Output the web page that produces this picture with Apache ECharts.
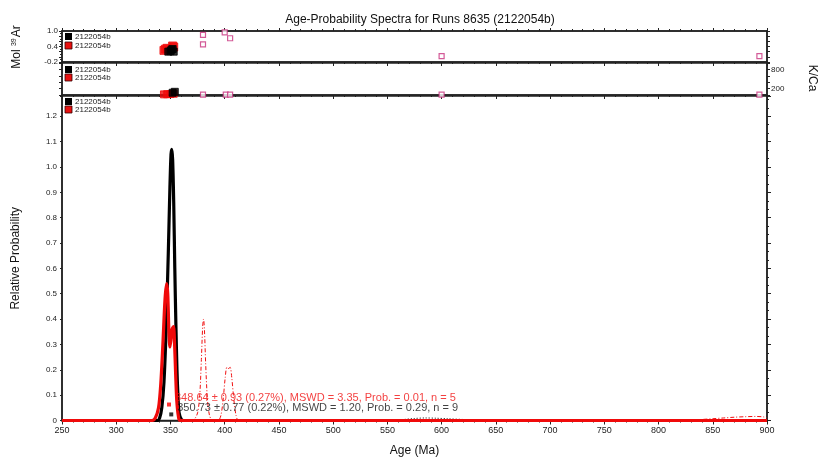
<!DOCTYPE html>
<html><head><meta charset="utf-8">
<script src="https://cdn.jsdelivr.net/npm/echarts@6/dist/echarts.min.js"></script>
<style>html,body{margin:0;padding:0;background:#fff}#c{width:818px;height:466px}</style>
</head><body><div id="c"></div>
<script>
// ---- data ----
const titleText = 'Age-Probability Spectra for Runs 8635 (2122054b)';
const sampleName = '2122054b';
const xTicks = [250,300,350,400,450,500,550,600,650,700,750,800,850,900];
const probTicks = [0,0.1,0.2,0.3,0.4,0.5,0.6,0.7,0.8,0.9,1.0,1.1,1.2];
// Black probability curve (age, relative probability)
const blackCurve = [[250,0],[330,0],[338,0],[340,0.01],[342,0.05],[344,0.15],[346,0.36],[348,0.66],[349.5,0.92],[350.5,1.05],[351.2,1.07],[352,1.03],[353,0.86],[354,0.6],[355,0.38],[356,0.2],[357,0.09],[358,0.03],[360,0.005],[362,0],[900,0]];
// Red probability curve (solid, included steps)
const redCurve = [[250,0],[333,0],[336,0.01],[339,0.05],[341,0.14],[343,0.3],[345,0.48],[346.5,0.54],[347.5,0.5],[348.5,0.36],[349.5,0.29],[350.5,0.32],[351.5,0.36],[352.8,0.37],[353.8,0.3],[354.8,0.18],[355.8,0.08],[357.2,0.02],[359,0],[900,0]];
// Red dashed curve (excluded steps)
const redDashed = [[368,0],[372,0.005],[375,0.03],[377,0.1],[378.5,0.24],[379.7,0.37],[380.5,0.40],[381.3,0.36],[382.5,0.22],[384,0.09],[386,0.02],[389,0],[394,0],[396.5,0.02],[398.5,0.08],[400.5,0.17],[402,0.21],[403.5,0.205],[405,0.21],[406.5,0.17],[408.5,0.08],[410.5,0.02],[413,0],[830,0],[840,0.004],[850,0.007],[860,0.01],[870,0.013],[880,0.015],[890,0.016],[897,0.014],[900,0.01]];
// Black dotted curve (excluded steps)
const blackDotted = [[555,0],[565,0.004],[575,0.008],[585,0.01],[595,0.009],[605,0.007],[620,0.004],[640,0],[900,0]];
// Weighted mean annotations
const redMean = {age:348.64, y:0.063, text:'348.64 ± 0.93 (0.27%), MSWD = 3.35, Prob. = 0.01, n = 5'};
const blackMean = {age:350.73, y:0.024, text:'350.73 ± 0.77 (0.22%), MSWD = 1.20, Prob. = 0.29, n = 9'};
// Mol 39Ar panel
const molBlack = [[348,0.2],[350,0.22],[351,0.28],[352,0.3],[353,0.2]];
const molRed = [[344,0.25],[345.5,0.3],[347,0.33],[352,0.42],[353,0.38]];
const molExcluded = [[380,0.85],[380,0.48],[400,0.95],[405,0.72],[600,0.03],[893,0.03]];
// K/Ca panel
const kcaBlack = [[352,70],[354,100]];
const kcaRed = [[344,20],[347,25],[350,30],[353,40]];
const kcaExcluded = [[380,10],[401,10],[405,10],[600,10],[893,10]];

// ---- chart ----
const FONT = 'Liberation Sans';
const PINK = '#c8327e';
const L = 62, R = 51;
const grids = [
  {left:L, right:R, top:31, height:31},
  {left:L, right:R, top:63, height:32},
  {left:L, right:R, top:96, height:324.5}
].map(g => Object.assign(g, {show:true, borderColor:'#222', borderWidth:1.5, backgroundColor:'transparent'}));

function xAx(gi, showLabels, pos) {
  return {type:'value', gridIndex:gi, min:250, max:900, interval:50, position:pos||'bottom',
    axisLine:{show:true, onZero:false, lineStyle:{color:'#222', width:1.5}},
    axisTick:{show:true, inside:false, length:4, lineStyle:{color:'#222'}},
    minorTick:{show:true, splitNumber:5, length:2, lineStyle:{color:'#222'}},
    splitLine:{show:false},
    axisLabel:{show:showLabels, fontFamily:FONT, fontSize:9, color:'#222', margin:6}};
}
function yAx(gi, opt) {
  return Object.assign({type:'value', gridIndex:gi,
    axisLine:{show:true, onZero:false, lineStyle:{color:'#222', width:1.5}},
    axisTick:{show:true, length:3, lineStyle:{color:'#222'}},
    minorTick:{show:true, splitNumber:4, length:2, lineStyle:{color:'#222'}},
    splitLine:{show:false},
    axisLabel:{show:false, fontFamily:FONT, fontSize:8, color:'#222', margin:4}}, opt);
}
const sq = (c, border) => ({color:c, borderColor:border||c, borderWidth:1});

const legendG = [];
[[33,42],[66,74],[98,106]].forEach(([yb,yr]) => {
  legendG.push({type:'rect', shape:{x:65, y:yb, width:7, height:7}, style:{fill:'#000'}});
  legendG.push({type:'text', x:75, y:yb+3.5, style:{text:sampleName, font:'8px '+FONT, fill:'#222', textVerticalAlign:'middle'}});
  legendG.push({type:'rect', shape:{x:65, y:yr, width:7, height:7}, style:{fill:'#e8100f', stroke:'#300', lineWidth:0.8}});
  legendG.push({type:'text', x:75, y:yr+3.5, style:{text:sampleName, font:'8px '+FONT, fill:'#222', textVerticalAlign:'middle'}});
});

const option = {
  animation:false,
  backgroundColor:'#fff',
  title:{text:titleText, left:415, top:9, textAlign:'center', textStyle:{fontFamily:FONT, fontSize:12, fontWeight:'normal', color:'#111'}},
  grid:grids,
  xAxis:[
    xAx(0,false,'bottom'),
    Object.assign(xAx(0,false,'top'), {axisTick:{show:true, length:3, lineStyle:{color:'#222'}}}),
    xAx(1,false,'bottom'),
    Object.assign(xAx(2,true,'bottom'), {name:'Age (Ma)', nameLocation:'middle', nameGap:24, nameTextStyle:{fontFamily:FONT, fontSize:12, color:'#111'}})
  ],
  yAxis:[
    yAx(0,{min:-0.2, max:1.0, interval:0.2, position:'left',
      axisLabel:{show:true, fontFamily:FONT, fontSize:8, color:'#222', margin:4,
        formatter:v => (Math.abs(v-1)<1e-6?'1.0':Math.abs(v-0.4)<1e-6?'0.4':Math.abs(v+0.2)<1e-6?'-0.2':'')},
      minorTick:{show:true, splitNumber:2, length:2, lineStyle:{color:'#222'}}}),
    yAx(0,{min:-0.2, max:1.0, interval:0.2, position:'right', minorTick:{show:false}}),
    yAx(1,{min:0, max:1000, interval:200, position:'left', minorTick:{show:false}}),
    yAx(1,{min:0, max:1000, interval:200, position:'right',
      axisLabel:{show:true, fontFamily:FONT, fontSize:8, color:'#222', margin:4,
        formatter:v => (v===200||v===800)?String(v):''},
      minorTick:{show:false}}),
    yAx(2,{min:0, max:1.28, interval:0.1, position:'left',
      axisLabel:{show:true, fontFamily:FONT, fontSize:8, color:'#222', margin:5,
        formatter:v => v>1.25?'':(v===0?'0':v.toFixed(1))},
      axisTick:{show:true, length:2, lineStyle:{color:'#222'}}, minorTick:{show:false},
      name:'Relative Probability', nameLocation:'middle', nameGap:40, nameRotate:90,
      nameTextStyle:{fontFamily:FONT, fontSize:12, color:'#111'}}),
    yAx(2,{min:0, max:1.28, interval:0.1, position:'right', axisLabel:{show:false},
      axisTick:{show:true, length:4, lineStyle:{color:'#222'}},
      minorTick:{show:true, splitNumber:3, length:2, lineStyle:{color:'#222'}}})
  ],
  series:[
    {type:'scatter', xAxisIndex:0, yAxisIndex:0, data:molExcluded, symbol:'rect', symbolSize:5, itemStyle:{color:'#fff', borderColor:PINK, borderWidth:1.2}, z:3},
    {type:'scatter', xAxisIndex:0, yAxisIndex:0, data:molRed, symbol:'rect', symbolSize:8, itemStyle:sq('#f00a0a'), z:3},
    {type:'scatter', xAxisIndex:0, yAxisIndex:0, data:molBlack, symbol:'rect', symbolSize:7, itemStyle:sq('#000'), z:4},
    {type:'scatter', xAxisIndex:2, yAxisIndex:2, data:kcaExcluded, symbol:'rect', symbolSize:5, itemStyle:{color:'#fff', borderColor:PINK, borderWidth:1.2}, z:3},
    {type:'scatter', xAxisIndex:2, yAxisIndex:2, data:kcaRed, symbol:'rect', symbolSize:7, itemStyle:sq('#f00a0a'), z:3},
    {type:'scatter', xAxisIndex:2, yAxisIndex:2, data:kcaBlack, symbol:'rect', symbolSize:7, itemStyle:sq('#000'), z:4},
    {type:'line', xAxisIndex:3, yAxisIndex:4, data:blackDotted, showSymbol:false, smooth:0.3, lineStyle:{color:'#000', width:1, type:[1,2]}, z:2},
    {type:'line', xAxisIndex:3, yAxisIndex:4, data:redDashed, showSymbol:false, smooth:0.3, lineStyle:{color:'#f01010', width:1, type:[4,2,1,2]}, z:2},
    {type:'line', xAxisIndex:3, yAxisIndex:4, data:blackCurve, showSymbol:false, smooth:0.3, lineStyle:{color:'#000', width:3.2}, z:3},
    {type:'line', xAxisIndex:3, yAxisIndex:4, data:redCurve, showSymbol:false, smooth:0.3, lineStyle:{color:'#f00a0a', width:3.2}, z:4},
    {type:'scatter', xAxisIndex:3, yAxisIndex:4, data:[[redMean.age, redMean.y]], symbol:'rect', symbolSize:4, itemStyle:{color:'#f00'}, z:5,
      label:{show:true, position:'right', offset:[-1,-7], formatter:redMean.text, fontFamily:FONT, fontSize:11, color:'#f01010'}},
    {type:'scatter', xAxisIndex:3, yAxisIndex:4, data:[[blackMean.age, blackMean.y]], symbol:'rect', symbolSize:4, itemStyle:{color:'#000'}, z:5,
      label:{show:true, position:'right', offset:[-1,-6], formatter:blackMean.text, fontFamily:FONT, fontSize:11, color:'#111'}}
  ],
  graphic:legendG.concat([
    {type:'text', x:17, y:47, rotation:Math.PI/2, style:{text:'{a|Mol }{s|39}{a|Ar}', align:'center', verticalAlign:'middle',
      rich:{a:{font:'12px '+FONT, fill:'#111'}, s:{font:'7px '+FONT, fill:'#111', verticalAlign:'top', padding:[0,1,6,0]}}}},
    {type:'text', x:812, y:78, rotation:-Math.PI/2, style:{text:'K/Ca', font:'12px '+FONT, fill:'#111', align:'center', verticalAlign:'middle'}}
  ])
};
const chart = echarts.init(document.getElementById('c'), null, {renderer:'canvas'});
chart.setOption(option);
</script></body></html>
